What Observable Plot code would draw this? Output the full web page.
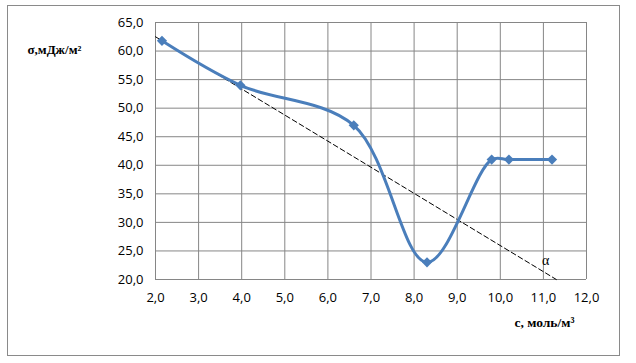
<!DOCTYPE html>
<html><head><meta charset="utf-8">
<script src="https://cdn.jsdelivr.net/npm/d3@7"></script>
<script src="https://cdn.jsdelivr.net/npm/@observablehq/plot@0.6"></script>
<style>
body{margin:0;background:#fff;}
#wrap{position:relative;width:636px;height:363px;}
#border{position:absolute;left:7px;top:5px;width:611px;height:349px;border:1px solid #8a8a8a;pointer-events:none;}
</style></head>
<body><div id="wrap"><div id="border"></div></div>
<script>
const concentration = [2.15, 3.97, 6.6, 8.3, 9.8, 10.2, 11.2];
const tension = [61.8, 54.0, 47.0, 23.0, 41.0, 41.0, 41.0];
const tangentX = [2.0, 11.3];
const tangentY = [62.5, 20.0];
const xTicks = [2,3,4,5,6,7,8,9,10,11,12];
const yTicks = [20,25,30,35,40,45,50,55,60,65];
const yLabel = "σ,мДж/м²";
const xLabel = "с, моль/м³";
const angleLabel = {x: 11.05, y: 23.3, text: "α"};

const pts = concentration.map((c,i)=>({c, s: tension[i]}));
const tan = tangentX.map((c,i)=>({c, s: tangentY[i]}));
const fmt = d => d3.format(".1f")(d).replace(".", ",");
const blue = "#4A7EBB";
const gridColor = "#868686";

const chart = Plot.plot({
  width: 636, height: 363,
  marginLeft: 155, marginRight: 50, marginTop: 22, marginBottom: 84,
  style: {background: "transparent", fontFamily: "'Open Sans', sans-serif", fontSize: "13px", color: "#000"},
  x: {domain: [2, 12]},
  y: {domain: [20, 65]},
  marks: [
    Plot.gridX(xTicks, {stroke: gridColor, strokeOpacity: 1, strokeWidth: 1}),
    Plot.gridY(yTicks, {stroke: gridColor, strokeOpacity: 1, strokeWidth: 1}),
    Plot.axisX(xTicks, {tickSize: 0, tickPadding: 13, tickFormat: fmt, label: null, fontSize: 13}),
    Plot.axisY(yTicks, {tickSize: 0, tickPadding: 12, tickFormat: fmt, label: null, fontSize: 13}),
    Plot.line(tan, {x: "c", y: "s", stroke: "#000", strokeWidth: 1, strokeDasharray: "5,3"}),
    Plot.line(pts, {x: "c", y: "s", stroke: blue, strokeWidth: 3, curve: "catmull-rom"}),
    Plot.dot(pts, {x: "c", y: "s", symbol: "diamond2", r: 4.6, fill: blue, stroke: "none"}),
    Plot.text([angleLabel], {x: "x", y: "y", text: "text", fontFamily: "'Liberation Serif', serif", fontSize: 14, fill: "#000"}),
    Plot.text([yLabel], {frameAnchor: "top-left", textAnchor: "start", dx: -128, dy: 22, fontFamily: "'Liberation Serif', serif", fontWeight: "bold", fontSize: 13, fill: "#000"}),
    Plot.text([xLabel], {frameAnchor: "bottom-right", textAnchor: "end", dx: -12, dy: 47, fontFamily: "'Liberation Serif', serif", fontWeight: "bold", fontSize: 13.5, fill: "#000"})
  ]
});
document.getElementById("wrap").prepend(chart);
</script></body></html>
